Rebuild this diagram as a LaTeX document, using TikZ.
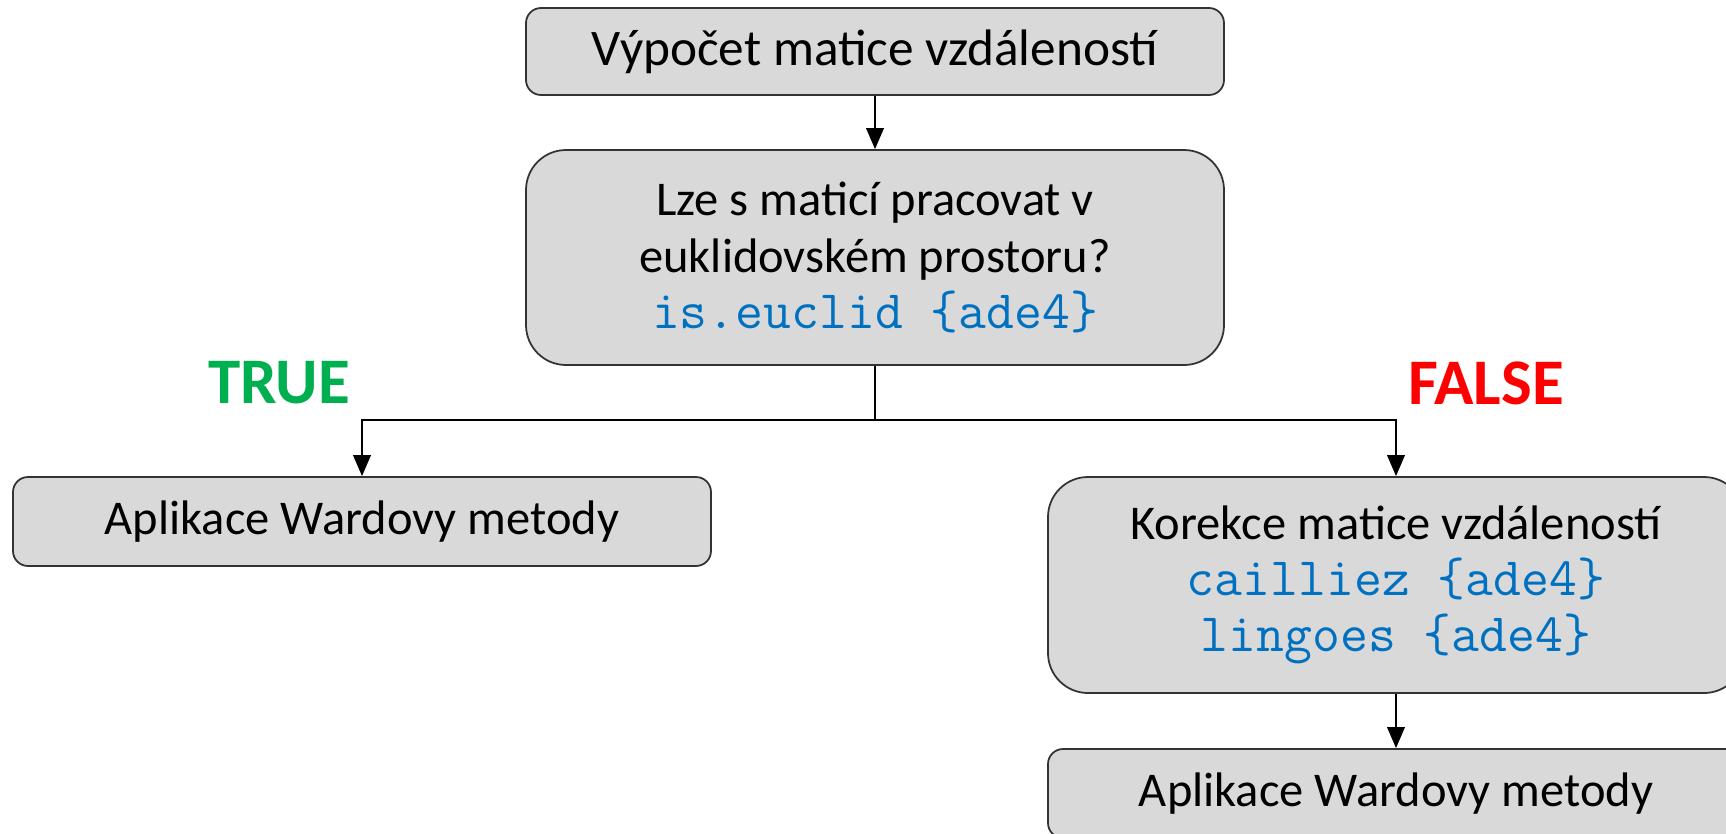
\documentclass[tikz,border=0pt]{standalone}
\usepackage{fontspec}
\setmainfont{Carlito}
\usepackage{xcolor}
\usepackage{tikz}
\usetikzlibrary{arrows.meta}
\definecolor{boxgray}{HTML}{D9D9D9}
\definecolor{codeblue}{HTML}{0070C0}
\definecolor{truegreen}{HTML}{00B050}
\definecolor{falsered}{HTML}{FF0000}
\newcommand{\rcode}[1]{\textcolor{codeblue}{\fontsize{15.4}{16}\selectfont\ttfamily #1}}

\begin{document}
\begin{tikzpicture}[
    box/.style={draw=black!80, line width=0.5pt, fill=boxgray, rounded corners=0.15cm,
      align=center, inner sep=0pt, font=\fontsize{13.8}{16}\selectfont},
    bigbox/.style={box, rounded corners=0.4cm},
    arrow/.style={line width=0.6pt, -{Triangle[width=5pt,length=6pt]}},
    verdict/.style={font=\fontsize{18.5}{20}\selectfont\bfseries}
  ]
  \clip (0,0) rectangle (17.26,8.33);

  % Boxes
  \node [box, minimum width=6.98cm, minimum height=0.87cm, font=\fontsize{14.6}{16}\selectfont] (calc) at (8.75,7.815) {Výpočet matice vzdáleností};
  \node [bigbox, minimum width=6.98cm, minimum height=2.15cm] (euclid) at (8.75,5.755)
    {Lze s maticí pracovat v\\euklidovském prostoru?\\\rcode{is.euclid \{ade4\}}};
  \node [box, minimum width=6.98cm, minimum height=0.89cm] (wardL) at (3.62,3.115) {Aplikace Wardovy metody};
  \node [bigbox, minimum width=6.96cm, minimum height=2.16cm] (corr) at (13.96,2.48)
    {Korekce matice vzdáleností\\\rcode{cailliez \{ade4\}}\\\rcode{lingoes \{ade4\}}};
  \node [box, minimum width=6.96cm, minimum height=0.89cm] (wardR) at (13.96,0.395) {Aplikace Wardovy metody};

  % Labels
  \node [verdict, text=truegreen] (true) at (2.79,4.50) {TRUE};
  \node [verdict, text=falsered] (false) at (14.86,4.50) {FALSE};

  % Connectors
  \coordinate (split) at (8.75,4.13);
  \draw [arrow] (calc) -- (euclid);
  \draw [line width=0.6pt] (euclid) -- (split);
  \draw [arrow] (split) -| (wardL);
  \draw [arrow] (split) -| (corr);
  \draw [arrow] (corr) -- (wardR);
\end{tikzpicture}
\end{document}
